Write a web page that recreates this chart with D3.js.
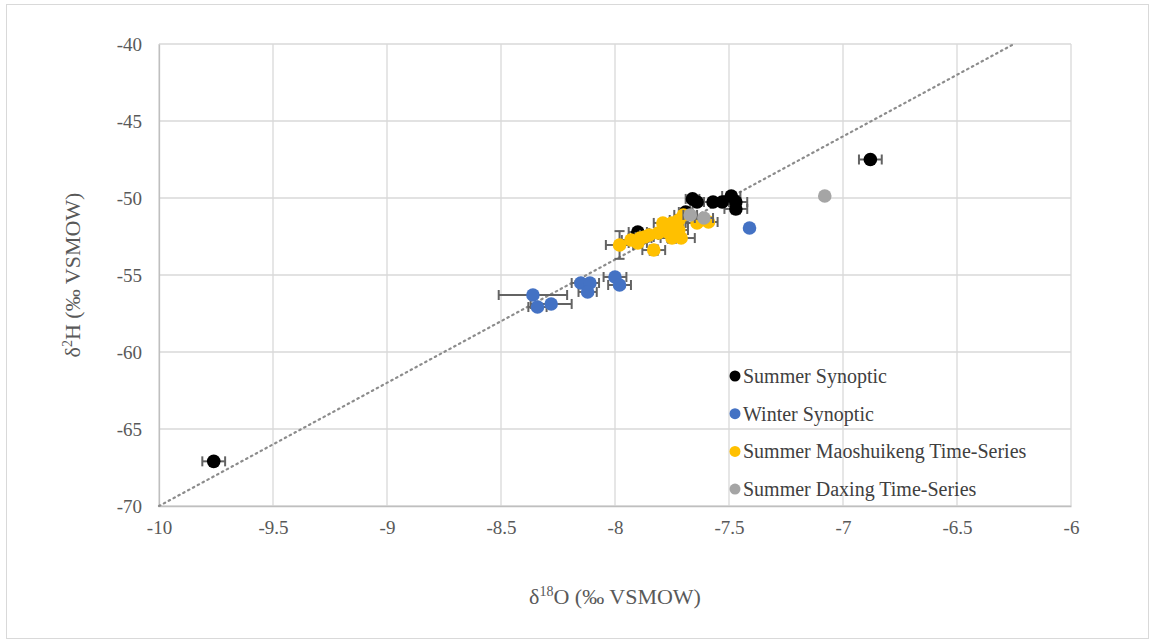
<!DOCTYPE html>
<html><head><meta charset="utf-8">
<script src="https://cdn.jsdelivr.net/npm/d3@7"></script>
<style>body{margin:0;background:#fff}svg{display:block}text{font-family:"Liberation Serif","Times New Roman",serif}</style>
</head><body>
<script>
// ---- data ----
const xTicks = [-10,-9.5,-9,-8.5,-8,-7.5,-7,-6.5,-6];
const yTicks = [-40,-45,-50,-55,-60,-65,-70];
const seriesNames = ["Summer Synoptic","Winter Synoptic","Summer Maoshuikeng Time-Series","Summer Daxing Time-Series"];
const seriesColors = ["#000000","#4472c4","#ffc000","#a5a5a5"];

const summerSynX = [-9.76,-6.88,-7.66,-7.64,-7.57,-7.53,-7.49,-7.47,-7.47,-7.69,-7.90];
const summerSynY = [-67.1,-47.5,-50.06,-50.26,-50.26,-50.26,-49.87,-50.26,-50.71,-50.91,-52.21];
const summerSynXErr = [0.05,0.05,0.03,0.03,0.04,0.03,0.04,0.05,0.05,0.03,0.04];
const summerSynYErr = [0,0,0,0,0,0,0,0.3,0.3,0,0];

const winterSynX = [-8.36,-8.34,-8.28,-8.15,-8.11,-8.12,-8.00,-7.98,-7.41];
const winterSynY = [-56.3,-57.08,-56.88,-55.52,-55.52,-56.1,-55.13,-55.65,-51.95];
const winterSynXErr = [0.15,0.04,0.09,0.04,0.04,0.04,0.05,0.05,0.01];
const winterSynYErr = [0,0,0,0,0,0,0,0,0];

const maoX = [-7.98,-7.93,-7.90,-7.89,-7.87,-7.85,-7.83,-7.81,-7.79,-7.77,-7.75,-7.75,-7.72,-7.72,-7.71,-7.70,-7.64,-7.59];
const maoY = [-53.05,-52.73,-52.92,-52.6,-52.53,-52.4,-53.38,-52.27,-51.62,-52.21,-51.62,-52.6,-52.08,-51.43,-52.6,-51.1,-51.62,-51.56];
const maoXErr = [0.06,0.04,0.04,0.05,0.04,0.04,0.05,0.04,0.04,0.04,0.05,0.05,0.04,0.04,0.06,0.04,0.05,0.04];
const maoYErr = [0.9,0,0.3,0,0.3,0,0.3,0,0,0.3,0,0.3,0,0,0,0,0,0.2];

const daxX = [-7.67,-7.61,-7.08];
const daxY = [-51.1,-51.3,-49.87];
const daxXErr = [0.03,0.04,0.01];
const daxYErr = [0,0,0.15];

const mwlX = [-10,-6.25];
const mwlY = [-70,-40];

// ---- layout ----
const W=1154,H=644;
const m={l:159,t:44,r:1154-1071,b:644-506};
const svg=d3.select("body").append("svg").attr("width",W).attr("height",H);
const x=d3.scaleLinear().domain([-10,-6]).range([m.l,W-m.r]);
const y=d3.scaleLinear().domain([-70,-40]).range([H-m.b,m.t]);

svg.append("rect").attr("x",6.5).attr("y",4.5).attr("width",1142).attr("height",634)
  .attr("fill","#fff").attr("stroke","#d9d9d9");

const font='"Liberation Serif","Times New Roman",serif';
const txt="#595959";

// grid
svg.append("g").selectAll("line").data(xTicks).join("line")
  .attr("x1",d=>x(d)).attr("x2",d=>x(d)).attr("y1",y(-40)).attr("y2",y(-70))
  .attr("stroke","#d9d9d9").attr("stroke-width",1.3);
svg.append("g").selectAll("line").data(yTicks).join("line")
  .attr("y1",d=>y(d)).attr("y2",d=>y(d)).attr("x1",x(-10)).attr("x2",x(-6))
  .attr("stroke","#d9d9d9").attr("stroke-width",1.3);

// axes
const xa=svg.append("g").attr("transform",`translate(0,${y(-70)})`)
  .call(d3.axisBottom(x).tickValues(xTicks).tickSize(0).tickPadding(15).tickFormat(d=>String(d)));
xa.attr("font-family",null);
xa.select(".domain").attr("stroke","#bfbfbf").attr("stroke-width",1.3);
xa.selectAll("text").style("font-family",font).attr("font-size",19).attr("fill",txt);
const ya=svg.append("g").attr("transform",`translate(${x(-10)},0)`)
  .call(d3.axisLeft(y).tickValues(yTicks).tickSize(0).tickPadding(17).tickFormat(d=>String(d)));
ya.attr("font-family",null);
ya.select(".domain").attr("stroke","#bfbfbf").attr("stroke-width",1.3);
ya.selectAll("text").style("font-family",font).attr("font-size",19).attr("fill",txt);

// MWL dotted line
svg.append("line").attr("x1",x(mwlX[0])).attr("y1",y(mwlY[0])).attr("x2",x(mwlX[1])).attr("y2",y(mwlY[1]))
  .attr("stroke","#8c8c8c").attr("stroke-width",2.2).attr("stroke-dasharray","1.5,4").attr("stroke-linecap","round");

const series=[
  {X:summerSynX,Y:summerSynY,XE:summerSynXErr,YE:summerSynYErr},
  {X:winterSynX,Y:winterSynY,XE:winterSynXErr,YE:winterSynYErr},
  {X:maoX,Y:maoY,XE:maoXErr,YE:maoYErr},
  {X:daxX,Y:daxY,XE:daxXErr,YE:daxYErr}
];
const ebColor="#636363", cap=5;
series.forEach((s,si)=>{
  const pts=s.X.map((v,i)=>({x:v,y:s.Y[i],xe:s.XE[i],ye:s.YE[i]}));
  const g=svg.append("g");
  pts.forEach(p=>{
    const cx=x(p.x), cy=y(p.y);
    if(p.xe>0){
      const x1=x(p.x-p.xe), x2=x(p.x+p.xe);
      g.append("line").attr("x1",x1).attr("x2",x2).attr("y1",cy).attr("y2",cy).attr("stroke",ebColor).attr("stroke-width",2);
      [x1,x2].forEach(xx=>g.append("line").attr("x1",xx).attr("x2",xx).attr("y1",cy-cap).attr("y2",cy+cap).attr("stroke",ebColor).attr("stroke-width",2));
    }
    if(p.ye>0){
      const y1=y(p.y-p.ye), y2=y(p.y+p.ye);
      g.append("line").attr("x1",cx).attr("x2",cx).attr("y1",y1).attr("y2",y2).attr("stroke",ebColor).attr("stroke-width",2);
      [y1,y2].forEach(yy=>g.append("line").attr("y1",yy).attr("y2",yy).attr("x1",cx-cap).attr("x2",cx+cap).attr("stroke",ebColor).attr("stroke-width",2));
    }
  });
  g.selectAll("circle").data(pts).join("circle")
    .attr("cx",d=>x(d.x)).attr("cy",d=>y(d.y)).attr("r",6.8).attr("fill",seriesColors[si]);
});

// legend
const lg=svg.append("g");
seriesNames.forEach((n,i)=>{
  const ly=376+i*37.7;
  lg.append("circle").attr("cx",735).attr("cy",ly).attr("r",5.5).attr("fill",seriesColors[i]);
  lg.append("text").attr("x",743).attr("y",ly).attr("dy","0.35em").style("font-family",font)
    .attr("font-size",20).attr("fill","#404040").text(n);
});

// axis titles
const xt=svg.append("text").attr("x",615).attr("y",604).attr("text-anchor","middle")
  .style("font-family",font).attr("font-size",22).attr("fill",txt);
xt.append("tspan").text("δ");
xt.append("tspan").attr("font-size",14).attr("dy",-8).text("18");
xt.append("tspan").attr("dy",8).text("O (‰ VSMOW)");

const yt=svg.append("text").attr("transform",`translate(80,${(y(-40)+y(-70))/2}) rotate(-90)`).attr("text-anchor","middle")
  .style("font-family",font).attr("font-size",22).attr("fill",txt);
yt.append("tspan").text("δ");
yt.append("tspan").attr("font-size",14).attr("dy",-8).text("2");
yt.append("tspan").attr("dy",8).text("H (‰ VSMOW)");
</script>
</body></html>
